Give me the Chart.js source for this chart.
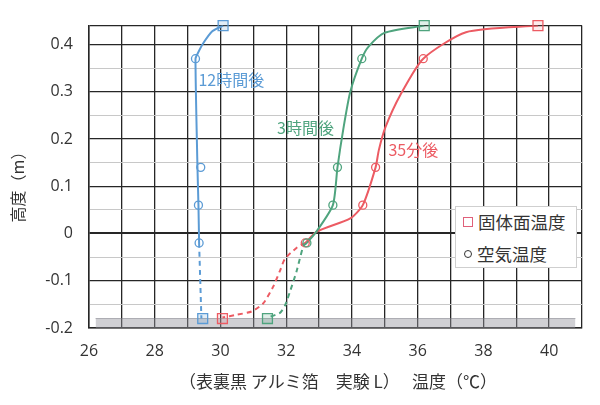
<!DOCTYPE html>
<html lang="ja">
<head>
<meta charset="UTF-8">
<title>高度と温度</title>
<script src="https://cdn.jsdelivr.net/npm/chart.js"></script>
<style>
  html, body { margin: 0; padding: 0; background: #fff; }
  #wrap { position: relative; width: 600px; height: 405px; }
  .legend {
    position: absolute; left: 455px; top: 206px; width: 122px; height: 62px;
    box-sizing: border-box; border: 1px solid #cfcfcf; background: #fff;
    font-family: "Noto Sans CJK JP", sans-serif; font-size: 17.5px; color: #333;
  }
  .legend .row { position: absolute; left: 7px; height: 24px; line-height: 24px; white-space: nowrap; }
  .legend .sq { display: inline-block; width: 8px; height: 8px; border: 1.3px solid #e0607a; vertical-align: middle; margin-right: 5px; position: relative; top: -2px; }
  .legend .ci { display: inline-block; width: 6px; height: 6px; border: 1.3px solid #333; border-radius: 50%; vertical-align: middle; margin-right: 6px; position: relative; top: -2px; left: 1px; }
</style>
</head>
<body>
<div id="wrap">
  <canvas id="chart" width="600" height="405"></canvas>
  <div class="legend">
    <div class="row" style="top:3px"><span class="sq"></span>固体面温度</div>
    <div class="row" style="top:35px"><span class="ci"></span>空気温度</div>
  </div>
</div>
<script>
// --- データ（温度 ℃ / 高度 m）---
// 空気温度の測定高さと値
const airHeights = [0.37, 0.14, 0.06, -0.02];
const air12h = [29.24, 29.40, 29.33, 29.35];
const air3h  = [34.30, 33.56, 33.42, 32.63];
const air35m = [36.17, 34.72, 34.33, 32.58];

// 固体面温度（上面・下面）
const surfHeights = [0.44, -0.18];
const surf12h = [30.08, 29.46];
const surf3h  = [36.20, 31.43];
const surf35m = [39.66, 30.06];

// 曲線（実線：空気中、破線：下部）
const line12hT = [30.08, 29.75, 29.47, 29.30, 29.24, 29.30, 29.33, 29.35];
const line12hH = [0.44, 0.428, 0.402, 0.38, 0.37, 0.14, 0.06, -0.02];
const dash12hT = [29.35, 29.42];
const dash12hH = [-0.02, -0.18];

const line3hT = [36.20, 35.00, 34.50, 34.30, 33.95, 33.74, 33.56, 33.42, 32.93, 32.63];
const line3hH = [0.44, 0.425, 0.395, 0.37, 0.30, 0.222, 0.14, 0.06, 0.005, -0.02];
const dash3hT = [32.63, 32.52, 32.32, 32.13, 31.96, 31.81, 31.43];
const dash3hH = [-0.02, -0.027, -0.079, -0.12, -0.153, -0.168, -0.178];

const line35mT = [39.66, 37.47, 36.17, 35.48, 35.02, 34.82, 34.72, 34.33, 33.95, 32.93, 32.58];
const line35mH = [0.44, 0.426, 0.37, 0.294, 0.225, 0.177, 0.14, 0.06, 0.032, 0.004, -0.02];
const dash35mT = [32.58, 32.32, 31.96, 31.81, 31.60, 31.30, 30.95, 30.49, 30.06];
const dash35mH = [-0.02, -0.03, -0.054, -0.079, -0.113, -0.148, -0.165, -0.172, -0.178];

// 床（灰色の帯）
const floorT = [26.2, 40.8];
const floorH = [-0.18, -0.18];

// 曲線ラベル
const curveLabels = ['12時間後', '3時間後', '35分後'];
const curveLabelT = [29.33, 31.72, 35.11];
const curveLabelH = [0.325, 0.224, 0.176];

const BLUE = '#5b9bd5', GREEN = '#4fa47e', RED = '#ec5b63';
const labelColors = [BLUE, GREEN, RED];

const pts = (xs, ys) => xs.map((x, i) => ({ x: x, y: ys[i] }));

function lineSet(xs, ys, color, dashed) {
  return {
    data: pts(xs, ys), showLine: true, borderColor: color, borderWidth: 2,
    borderDash: dashed ? [5, 4] : [], pointRadius: 0, tension: 0.22, fill: false, order: 2
  };
}
function airSet(xs, color) {
  return {
    data: pts(xs, airHeights), showLine: false, pointStyle: 'circle', pointRadius: 4,
    borderColor: color, backgroundColor: 'rgba(255,255,255,0)', pointBorderWidth: 1.3, order: 1, clip: false
  };
}
function surfSet(xs, color, tint) {
  return {
    data: pts(xs, surfHeights), showLine: false, pointStyle: 'rect', pointRadius: 7,
    borderColor: color, backgroundColor: tint, pointBorderWidth: 1.3, order: 1, clip: false
  };
}

const isMajor = v => Math.abs(v * 10 - Math.round(v * 10)) < 1e-6;

const textPlugin = {
  id: 'texts',
  afterDatasetsDraw(chart) {
    const { ctx, scales } = chart;
    ctx.save();
    ctx.textBaseline = 'middle';
    ctx.font = '16px "Noto Sans CJK JP"';
    curveLabels.forEach((t, i) => {
      ctx.fillStyle = labelColors[i];
      ctx.fillText(t, scales.x.getPixelForValue(curveLabelT[i]), scales.y.getPixelForValue(curveLabelH[i]));
    });
    // 軸タイトル
    ctx.fillStyle = '#333';
    ctx.font = '17px "Noto Sans CJK JP"';
    ctx.textAlign = 'center';
    ctx.fillText('（表裏黒 アルミ箔　実験 L）　 温度（℃）', 338, 382);
    ctx.translate(18, 183);
    ctx.rotate(-Math.PI / 2);
    ctx.font = '16px "Noto Sans CJK JP"';
    ctx.fillText('高度（m）', 0, 0);
    ctx.restore();
  }
};

new Chart(document.getElementById('chart'), {
  type: 'scatter',
  data: {
    datasets: [
      lineSet(line12hT, line12hH, BLUE, false),
      lineSet(dash12hT, dash12hH, BLUE, true),
      lineSet(line3hT, line3hH, GREEN, false),
      lineSet(dash3hT, dash3hH, GREEN, true),
      lineSet(line35mT, line35mH, RED, false),
      lineSet(dash35mT, dash35mH, RED, true),
      airSet(air12h, BLUE), airSet(air3h, GREEN), airSet(air35m, RED),
      surfSet(surf12h, BLUE, 'rgba(91,155,213,0.18)'),
      surfSet(surf3h, GREEN, 'rgba(79,164,126,0.18)'),
      surfSet(surf35m, RED, 'rgba(236,91,99,0.12)'),
      {
        data: pts(floorT, floorH), showLine: true, pointRadius: 0, tension: 0,
        borderColor: 'rgba(120,120,130,0.55)', borderWidth: 1,
        backgroundColor: 'rgba(150,150,160,0.45)', fill: 'start', order: 10
      }
    ]
  },
  options: {
    responsive: false,
    animation: false,
    layout: { padding: { top: 20, right: 18, left: 0, bottom: 0 } },
    plugins: { legend: { display: false }, tooltip: { enabled: false } },
    scales: {
      x: {
        type: 'linear', min: 26, max: 41,
        afterFit: s => { s.height = 77; },
        ticks: {
          stepSize: 1, padding: 14, color: '#333',
          font: { family: 'Open Sans', size: 16 },
          callback: v => (v % 2 === 0 && v <= 40) ? v : ''
        },
        grid: { color: '#262626', lineWidth: 1.3, drawTicks: false },
        border: { color: '#262626', width: 1.5 }
      },
      y: {
        type: 'linear', min: -0.2, max: 0.44,
        afterFit: s => { s.width = 89; },
        ticks: {
          stepSize: 0.05, padding: 16, color: '#333',
          font: { family: 'Open Sans', size: 16 },
          callback: v => (isMajor(v) && v < 0.44) ? (Math.abs(v) < 1e-9 ? '0' : v.toFixed(1)) : ''
        },
        grid: {
          drawTicks: false,
          color: c => (isMajor(c.tick.value) || c.tick.value >= 0.44) ? '#262626' : '#c8c8c8',
          lineWidth: c => Math.abs(c.tick.value) < 1e-9 ? 2 : ((isMajor(c.tick.value) || c.tick.value >= 0.44) ? 1.3 : 1)
        },
        border: { color: '#262626', width: 1.5 }
      }
    }
  },
  plugins: [textPlugin]
});
</script>
</body>
</html>
